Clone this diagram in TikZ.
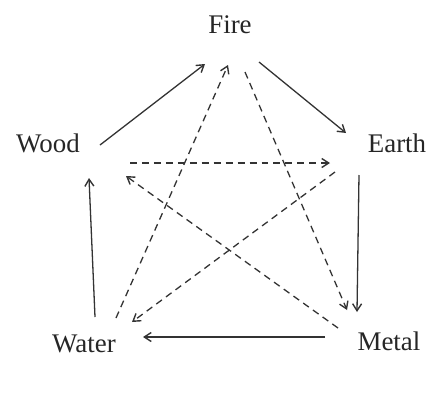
\documentclass[tikz,border=0pt]{standalone}
\usepackage{fontspec}
\setmainfont{Liberation Serif}
\usetikzlibrary{arrows.meta}
\begin{document}
\begin{tikzpicture}[x=1bp,y=-1bp,
  elem/.style={inner sep=0pt,text=black!85,font=\fontsize{27}{30}\selectfont},
  conn/.style={draw=black!80,line width=1.3pt,-{Straight Barb[length=7pt,width=9pt,line width=1.4pt]}},
  ctrl/.style={conn,dash pattern=on 7pt off 5pt}]
\useasboundingbox (0,0) rectangle (432,393);
\fill[white] (0,0) rectangle (432,393);
\node[elem] (fire)  at (230,25)  {Fire};
\node[elem] (wood)  at (48,143)  {Wood};
\node[elem] (earth) at (397,143) {Earth};
\node[elem] (water) at (84,344)  {Water};
\node[elem] (metal) at (389,341) {Metal};
% endpoints
\coordinate (woodE)   at (100,145);
\coordinate (fireSW)  at (205,64);
\coordinate (fireSE)  at (259,62);
\coordinate (earthW)  at (346,133);
\coordinate (earthS)  at (359,175);
\coordinate (metalN)  at (357,312);
\coordinate (metalW)  at (325,337);
\coordinate (waterE)  at (143,337);
\coordinate (waterN)  at (95,317);
\coordinate (woodS)   at (89,178);
% dashed endpoints
\coordinate (woodD)    at (130,163);
\coordinate (earthD)   at (330,163);
\coordinate (waterD)   at (116,318);
\coordinate (fireD)    at (228,65);
\coordinate (fireD2)   at (245,72);
\coordinate (metalD)   at (347,310);
\coordinate (earthD2)  at (335,172);
\coordinate (waterD2)  at (132,322);
\coordinate (metalD2)  at (338,328);
\coordinate (woodD2)   at (126,176);
% generating cycle
\draw[conn] (woodE) -- (fireSW);
\draw[conn] (fireSE) -- (earthW);
\draw[conn] (earthS) -- (metalN);
\draw[conn] (metalW) -- (waterE);
\draw[conn] (waterN) -- (woodS);
% controlling cycle
\draw[ctrl] (woodD) -- (earthD);
\draw[ctrl] (waterD) -- (fireD);
\draw[ctrl] (fireD2) -- (metalD);
\draw[ctrl] (earthD2) -- (waterD2);
\draw[ctrl] (metalD2) -- (woodD2);
\end{tikzpicture}
\end{document}
